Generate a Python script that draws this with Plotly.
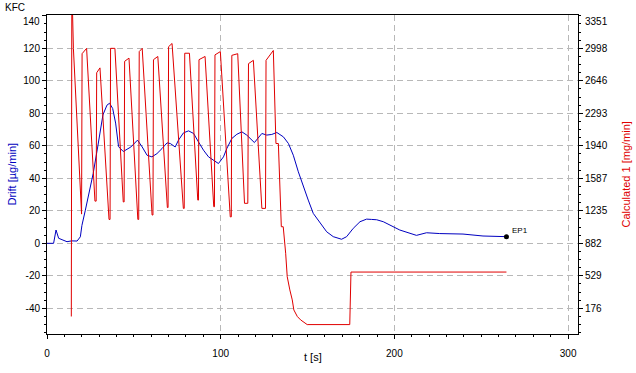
import plotly.graph_objects as go

# ---------------- data ----------------
drift_t = [0, 3.8, 5.2, 6.7, 9.2, 11.5, 14.2, 17.3, 19.2, 20.1, 22.0, 23.8, 26.6, 29.3, 32.2, 34.5,
           36.0, 37.8, 39.5, 41.2, 43.9, 48.3, 52.1, 54.8, 57.6, 60.4, 63.3, 66.2, 69.1, 71.0,
           73.8, 75.7, 78.6, 81.5, 84.4, 87.2, 90.1, 93.0, 96.8, 98.7, 101.6, 103.5, 106.4,
           109.3, 112.2, 115.0, 119.4, 123.7, 126.5, 129.4, 132.3, 136.1, 139.0, 141.8, 144.7,
           147.6, 150.4, 153.3, 157.2, 161.0, 164.8, 169.6, 172.5, 176.3, 180.2, 184.0, 186.9,
           189.8, 193.6, 198.4, 203.1, 212.7, 218.5, 226.1, 239.5, 251.0, 264.5]
drift_v = [0, 0, 8.2, 3.1, 2.0, 1.0, 1.5, 1.4, 4.0, 11.0, 20.0, 28.6, 43.0, 60.0, 79.0, 85.0,
           86.2, 83.0, 74.0, 59.5, 56.5, 59.3, 63.5, 59.3, 54.2, 53.2, 55.2, 58.3, 61.8, 61.4,
           59.3, 63.5, 68.0, 69.2, 67.6, 62.4, 57.3, 53.2, 50.1, 49.1, 53.2, 58.3, 64.5,
           67.1, 68.6, 66.6, 62.0, 67.6, 66.6, 67.0, 68.2, 65.5, 61.4, 54.2, 44.0,
           34.8, 26.6, 18.4, 12.3, 7.1, 4.1, 2.5, 4.1, 9.2, 13.3, 14.9, 14.7,
           14.5, 13.3, 10.6, 8.2, 4.9, 6.5, 6.0, 5.7, 4.5, 4.1]

calc_t = [14.0, 14.3, 15.2, 17.8, 19.6, 19.9,
          20.2, 22.8, 27.6, 28.3,
          28.6, 30.5, 35.7, 36.3,
          36.6, 39.1, 43.9, 44.4,
          44.7, 47.2, 52.3, 52.8,
          53.1, 54.8, 60.5, 61.0,
          61.3, 63.8, 69.3, 69.7,
          70.0, 72.0, 78.5, 79.0,
          79.3, 82.0, 86.8, 87.2,
          87.5, 91.0, 96.0, 96.4,
          96.7, 99.8, 105.5, 106.1,
          106.4, 109.8, 113.7, 115.6,
          116.0, 118.8, 123.7, 125.8,
          126.1, 130.3, 131.8, 133.2,
          134.9, 136.0, 137.4, 138.3, 139.8, 141.2, 142.1, 144.1, 146.0, 149.8,
          174.3, 174.6, 175.0, 264.5]
calc_v = [88, 3703, 2998, 2028, 1199, 1199,
          2940, 2998, 1340, 1340,
          2733, 2786, 1141, 1141,
          2998, 2998, 1331, 1331,
          2857, 2892, 1141, 1141,
          2963, 2998, 1189, 1189,
          2875, 2910, 1270, 1270,
          3016, 3051, 1261, 1261,
          2945, 2945, 1351, 1351,
          2875, 2910, 1279, 1279,
          2927, 2963, 1169, 1169,
          2922, 2940, 1316, 1316,
          2832, 2868, 1261, 1261,
          2868, 2975, 1965, 1965,
          1062, 1062, 774, 520, 376, 268, 159, 88, 51, 0,
          0, 265, 570, 570]

ep_t = [264.5]
ep_v = [4.1]
ep_label = ["EP1"]

left_ticks = [-40, -20, 0, 20, 40, 60, 80, 100, 120, 140]
left_tick_labels = ["-40", "-20", "0", "20", "40", "60", "80", "100", "120", "140"]
right_tick_labels = ["176", "529", "882", "1235", "1587", "1940", "2293", "2646", "2998", "3351"]
x_ticks = [0, 100, 200, 300]

# ---------------- scales ----------------
L_MIN, L_MAX = -55.8, 140.5
R_ZERO, R_PER = 881.9, 352.75 / 20.0          # right value at left 0, right units per left unit
R_MIN, R_MAX = R_ZERO + R_PER * L_MIN, R_ZERO + R_PER * L_MAX
right_tick_vals = [R_ZERO + R_PER * v for v in left_ticks]
right_minor_vals = [R_ZERO + R_PER * (-55 + 5 * k) for k in range(0, 40) if -55 + 5 * k <= 140]

BLUE = "#0000c0"
RED = "#e00000"
GRID = "#b8b8b8"
FONT = "Liberation Sans"
PW, PH = 531, 319   # plot area size in px

# the top-most labels are drawn a little lower (kept inside the frame), as in the reference
left_text = left_tick_labels[:-1] + [""]
right_text = right_tick_labels[:-1] + [""]

fig = go.Figure()
fig.add_trace(go.Scatter(x=drift_t, y=drift_v, mode="lines", line=dict(color=BLUE, width=1),
                         yaxis="y", showlegend=False, hoverinfo="skip"))
fig.add_trace(go.Scatter(x=calc_t, y=calc_v, mode="lines", line=dict(color=RED, width=1),
                         yaxis="y2", showlegend=False, hoverinfo="skip"))
fig.add_trace(go.Scatter(x=ep_t, y=ep_v, mode="markers", marker=dict(color="black", size=5),
                         yaxis="y", showlegend=False, hoverinfo="skip"))

fig.update_layout(
    width=636, height=373,
    margin=dict(l=47, r=58, t=15, b=39, autoexpand=False),
    paper_bgcolor="white", plot_bgcolor="white",
    font=dict(family=FONT, size=10, color="black"),
    xaxis=dict(range=[0, 305.7], tickmode="array", tickvals=x_ticks, automargin=False,
               showgrid=True, gridcolor=GRID, griddash="6px,4px", gridwidth=1,
               zeroline=False, showline=True, linecolor="black", linewidth=1, mirror=True,
               ticks="outside", ticklen=4, tickcolor="black", ticklabelstandoff=6,
               minor=dict(dtick=10, tick0=0, ticks="outside", ticklen=2, tickcolor="black",
                          showgrid=False)),
    yaxis=dict(range=[L_MIN, L_MAX], tickmode="array", tickvals=left_ticks, ticktext=left_text,
               automargin=False,
               showgrid=True, gridcolor=GRID, griddash="6px,4px", gridwidth=1,
               zeroline=False, showline=True, linecolor="black", linewidth=1,
               ticks="outside", ticklen=4, tickcolor="black",
               minor=dict(dtick=5, tick0=0, ticks="outside", ticklen=2, tickcolor="black",
                          showgrid=False)),
    yaxis2=dict(range=[R_MIN, R_MAX], overlaying="y", side="right", anchor="x", automargin=False,
                tickmode="array", tickvals=right_tick_vals, ticktext=right_text,
                showgrid=False, zeroline=False, showline=True, linecolor="black", linewidth=1,
                ticks="outside", ticklen=4, tickcolor="black",
                minor=dict(tickmode="array", tickvals=right_minor_vals, ticks="outside",
                           ticklen=2, tickcolor="black", showgrid=False)),
)

ann = [
    dict(text="KFC", xref="paper", yref="paper", x=-44 / PW, y=1 + 8 / PH, xanchor="left",
         yanchor="middle", showarrow=False, font=dict(size=10, color="black")),
    dict(text="Drift [µg/min]", xref="paper", yref="paper", x=-36 / PW, y=0.5, textangle=-90,
         xanchor="center", yanchor="middle", showarrow=False, font=dict(size=11, color=BLUE)),
    dict(text="Calculated 1 [mg/min]", xref="paper", yref="paper", x=1 + 47 / PW, y=0.5,
         textangle=-90, xanchor="center", yanchor="middle", showarrow=False,
         font=dict(size=11, color=RED)),
    dict(text="t [s]", xref="paper", yref="paper", x=0.5, y=-23 / PH, xanchor="center",
         yanchor="middle", showarrow=False, font=dict(size=11, color="black")),
    dict(text=left_tick_labels[-1], xref="paper", yref="y", x=-5 / PW, y=left_ticks[-1],
         xanchor="right", yanchor="middle", yshift=-6, showarrow=False,
         font=dict(size=10, color="black")),
    dict(text=right_tick_labels[-1], xref="paper", yref="y2", x=1 + 5 / PW, y=right_tick_vals[-1],
         xanchor="left", yanchor="middle", yshift=-6, showarrow=False,
         font=dict(size=10, color="black")),
]
for t, v, lab in zip(ep_t, ep_v, ep_label):
    ann.append(dict(text=lab, x=t, y=v, xref="x", yref="y", xanchor="left", yanchor="bottom",
                    xshift=4, yshift=0, showarrow=False, font=dict(size=8, color="black")))
fig.update_layout(annotations=ann)

fig.write_html("out.html", config={"displayModeBar": False},
               post_script="document.body.style.margin='0';document.body.style.overflow='hidden';")
